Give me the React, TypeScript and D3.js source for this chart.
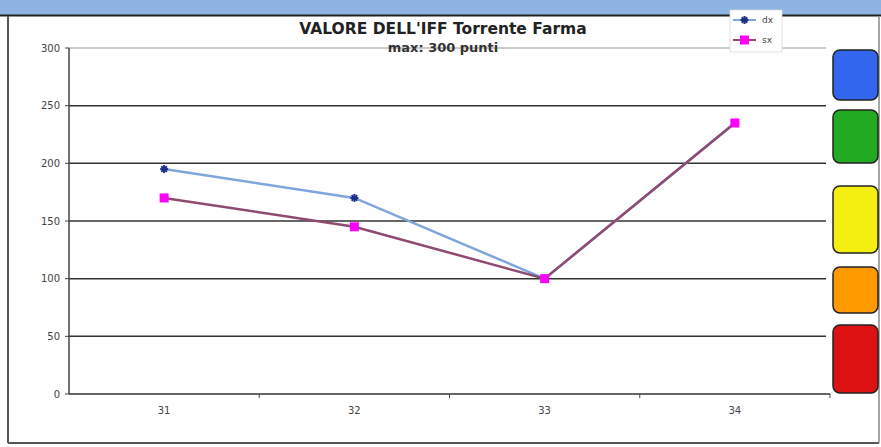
import React from "react";
import * as d3 from "d3";

const categories = ["31", "32", "33", "34"];
const dxValues = [195, 170, 100, 235];
const sxValues = [170, 145, 100, 235];
const yTicks = [0, 50, 100, 150, 200, 250, 300];
const seriesNames = ["dx", "sx"];
const statusColors = ["#3366ee", "#22aa22", "#f4ee11", "#ff9900", "#dd1111"];

const W = 881;
const H = 447;
const M = { left: 69, right: 830, top: 48, bottom: 394 };

export default function App() {
  const x = d3.scaleBand<string>().domain(categories).range([M.left, M.right]);
  const y = d3.scaleLinear().domain([0, 300]).range([M.bottom, M.top]);
  const cx = (c: string) => (x(c) as number) + x.bandwidth() / 2;
  const line = d3
    .line<number>()
    .x((_, i) => cx(categories[i]))
    .y((d) => y(d));

  const boxes = [
    { y0: 50, y1: 100 },
    { y0: 110, y1: 163 },
    { y0: 186, y1: 253 },
    { y0: 267, y1: 313 },
    { y0: 325, y1: 393 },
  ];

  const star = (px: number, py: number, key: string) => {
    const r = 4;
    return (
      <g key={key} stroke="#1c2f8a" strokeWidth={2}>
        <line x1={px - r} y1={py} x2={px + r} y2={py} />
        <line x1={px - r * 0.7} y1={py - r * 0.7} x2={px + r * 0.7} y2={py + r * 0.7} />
        <line x1={px - r * 0.7} y1={py + r * 0.7} x2={px + r * 0.7} y2={py - r * 0.7} />
        <line x1={px} y1={py - r} x2={px} y2={py + r} />
      </g>
    );
  };

  const font = "'DejaVu Sans', Verdana, sans-serif";

  return (
    <svg
      width={W}
      height={H}
      style={{ position: "absolute", left: 0, top: 0, fontFamily: font }}
    >
      <rect x={0} y={0} width={W} height={H} fill="#ffffff" />
      <rect x={0} y={0} width={W} height={15} fill="#8db4e2" />
      <line x1={0} x2={W} y1={15.5} y2={15.5} stroke="#222" strokeWidth={2} />
      {/* outer frame */}
      <line x1={8} x2={8} y1={16} y2={443} stroke="#555" strokeWidth={2} />
      <line x1={8} x2={879} y1={443} y2={443} stroke="#555" strokeWidth={2} />
      <line x1={879} x2={879} y1={16} y2={443} stroke="#888" strokeWidth={1.5} />

      {/* gridlines */}
      {yTicks.map((t) =>
        t === 0 ? null : (
          <line
            key={"g" + t}
            x1={M.left}
            x2={M.right - 4}
            y1={y(t)}
            y2={y(t)}
            stroke={t === 300 ? "#999" : "#333"}
            strokeWidth={t === 300 ? 1 : 1.5}
          />
        )
      )}

      {/* y axis */}
      <line x1={M.left} x2={M.left} y1={M.top} y2={M.bottom} stroke="#444" strokeWidth={1.5} />
      {yTicks.map((t) => (
        <g key={"yt" + t}>
          <line x1={M.left - 4} x2={M.left} y1={y(t)} y2={y(t)} stroke="#444" />
          <text x={M.left - 9} y={y(t) + 3.5} fontSize={10} textAnchor="end" fill="#444">
            {t}
          </text>
        </g>
      ))}

      {/* x axis */}
      <line x1={M.left} x2={M.right} y1={M.bottom} y2={M.bottom} stroke="#333" strokeWidth={1.5} />
      {categories.map((c, i) => (
        <g key={"xt" + c}>
          {i > 0 && (
            <line
              x1={x(c) as number}
              x2={x(c) as number}
              y1={M.bottom}
              y2={M.bottom + 4}
              stroke="#444"
            />
          )}
          <text x={cx(c)} y={M.bottom + 20} fontSize={10} textAnchor="middle" fill="#444">
            {c}
          </text>
        </g>
      ))}
      <line x1={M.right} x2={M.right} y1={M.bottom} y2={M.bottom + 4} stroke="#444" />

      {/* series */}
      <path d={line(dxValues) || ""} fill="none" stroke="#7ea6dc" strokeWidth={2.5} />
      <path d={line(sxValues) || ""} fill="none" stroke="#8e4a70" strokeWidth={2.5} />
      {dxValues.map((v, i) => star(cx(categories[i]), y(v), "dx" + i))}
      {sxValues.map((v, i) => (
        <rect
          key={"sx" + i}
          x={cx(categories[i]) - 4.5}
          y={y(v) - 4.5}
          width={9}
          height={9}
          fill="#ff00ff"
        />
      ))}

      {/* title */}
      <text x={443} y={34} fontSize={15.5} fontWeight="bold" textAnchor="middle" fill="#222">
        VALORE DELL'IFF Torrente Farma
      </text>
      <text x={443} y={52} fontSize={13} fontWeight="bold" textAnchor="middle" fill="#333">
        max: 300 punti
      </text>

      {/* legend */}
      <rect x={730} y={10} width={52} height={42} fill="#fff" stroke="#ddd" strokeWidth={0.8} />
      <line x1={733} x2={756} y1={20} y2={20} stroke="#7ea6dc" strokeWidth={2} />
      {star(744.5, 20, "ls")}
      <text x={762} y={23} fontSize={9} fill="#444">
        {seriesNames[0]}
      </text>
      <line x1={733} x2={756} y1={40} y2={40} stroke="#8e4a70" strokeWidth={2} />
      <rect x={740} y={35.5} width={9} height={9} fill="#ff00ff" />
      <text x={762} y={43} fontSize={9} fill="#444">
        {seriesNames[1]}
      </text>

      {/* status boxes */}
      {boxes.map((b, i) => (
        <rect
          key={"b" + i}
          x={833}
          y={b.y0}
          width={45}
          height={b.y1 - b.y0}
          rx={7}
          ry={7}
          fill={statusColors[i]}
          stroke="#222"
          strokeWidth={1.5}
        />
      ))}
    </svg>
  );
}
